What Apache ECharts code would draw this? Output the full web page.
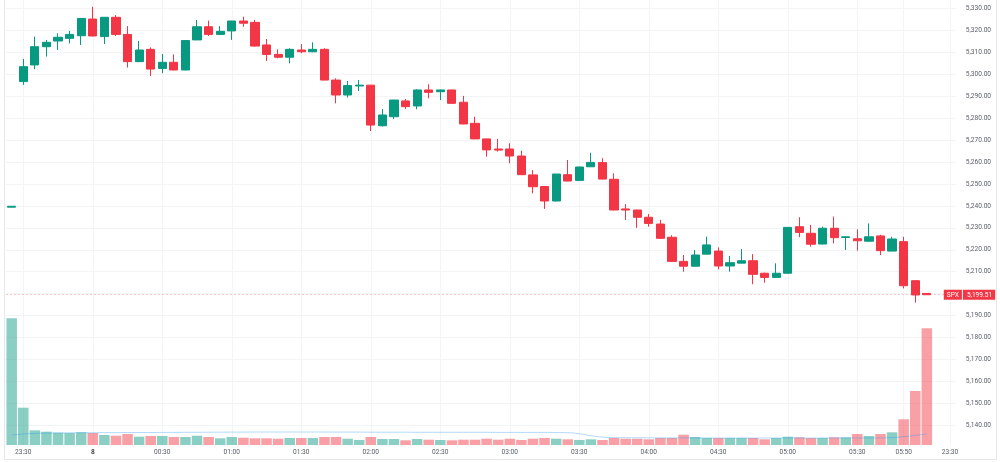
<!DOCTYPE html>
<html>
<head>
<meta charset="utf-8">
<script src="https://cdn.jsdelivr.net/npm/echarts@6/dist/echarts.min.js"></script>
<style>
html,body{margin:0;padding:0;background:#fff;}
#chart{width:1000px;height:462px;}
</style>
</head>
<body>
<div id="chart"></div>
<script>
// 5-minute bars, day 7 23:25 -> day 8 06:00, plus two empty slots on the time scale
const categories = [
 '7 23:25','7 23:30','7 23:35','7 23:40','7 23:45','7 23:50','7 23:55',
 '8 00:00','8 00:05','8 00:10','8 00:15','8 00:20','8 00:25','8 00:30','8 00:35','8 00:40','8 00:45','8 00:50','8 00:55',
 '8 01:00','8 01:05','8 01:10','8 01:15','8 01:20','8 01:25','8 01:30','8 01:35','8 01:40','8 01:45','8 01:50','8 01:55',
 '8 02:00','8 02:05','8 02:10','8 02:15','8 02:20','8 02:25','8 02:30','8 02:35','8 02:40','8 02:45','8 02:50','8 02:55',
 '8 03:00','8 03:05','8 03:10','8 03:15','8 03:20','8 03:25','8 03:30','8 03:35','8 03:40','8 03:45','8 03:50','8 03:55',
 '8 04:00','8 04:05','8 04:10','8 04:15','8 04:20','8 04:25','8 04:30','8 04:35','8 04:40','8 04:45','8 04:50','8 04:55',
 '8 05:00','8 05:05','8 05:10','8 05:15','8 05:20','8 05:25','8 05:30','8 05:35','8 05:40','8 05:45','8 05:50','8 05:55',
 '8 06:00','8 06:05','8 23:30'
];
const tickTimes = ['7 23:30','8 00:00','8 00:30','8 01:00','8 01:30','8 02:00','8 02:30','8 03:00','8 03:30',
 '8 04:00','8 04:30','8 05:00','8 05:30','8 05:50','8 23:30'];

const opens = [
 5239.4,5296.6,5304.2,5312.5,5315.1,5316.3,5317.5,5325.1,5317.1,5325.9,
 5318.1,5305.7,5311.3,5302.6,5305.4,5301.9,5315.6,5321.6,5318.1,5319.7,
 5324.2,5323.6,5313.3,5309.0,5307.7,5311.0,5310.2,5311.3,5297.3,5290.5,
 5294.6,5295.0,5276.5,5280.6,5287.8,5285.5,5292.8,5292.0,5292.8,5287.2,
 5277.6,5270.5,5265.9,5265.9,5262.7,5254.1,5248.8,5242.2,5254.2,5251.6,
 5257.8,5259.7,5252.1,5238.6,5238.1,5234.8,5231.7,5225.7,5214.7,5212.5,
 5218.0,5219.4,5212.6,5213.9,5215.0,5209.3,5207.4,5209.3,5230.5,5227.5,
 5222.6,5229.8,5225.6,5225.0,5223.9,5226.3,5219.4,5223.7,5205.9,5200.1
];
const closes = [
 5239.8,5303.4,5312.5,5314.5,5316.8,5318.1,5325.4,5317.4,5325.9,5318.1,
 5305.7,5311.0,5302.3,5305.4,5301.9,5315.3,5321.6,5318.1,5319.5,5324.2,
 5323.2,5312.8,5309.0,5307.7,5311.3,5310.2,5311.3,5297.3,5290.5,5294.8,
 5295.0,5276.8,5281.4,5288.2,5285.2,5292.8,5291.7,5292.8,5286.7,5277.3,
 5270.5,5265.5,5265.4,5262.7,5254.2,5248.7,5242.2,5254.5,5251.3,5257.7,
 5259.8,5252.2,5238.1,5238.1,5234.8,5232.0,5225.2,5214.7,5212.5,5217.6,
 5222.2,5212.6,5214.1,5215.0,5208.8,5207.4,5209.3,5230.2,5227.9,5222.5,
 5229.8,5225.5,5225.9,5224.1,5225.9,5219.6,5224.9,5203.6,5199.4,5199.51
];
const lows = [
 5239.3,5295.1,5302.3,5308.0,5311.0,5314.0,5313.3,5317.2,5313.7,5317.4,
 5303.0,5305.5,5299.2,5300.4,5301.7,5301.7,5315.5,5317.4,5317.9,5315.6,
 5321.6,5312.5,5306.0,5307.2,5304.9,5309.5,5310.0,5297.2,5286.7,5289.3,
 5292.3,5274.1,5276.1,5279.6,5284.1,5284.0,5289.0,5288.2,5286.6,5277.2,
 5270.4,5262.4,5264.7,5259.4,5254.1,5245.7,5238.6,5242.0,5251.2,5251.5,
 5257.7,5252.1,5238.0,5233.6,5230.0,5230.5,5225.0,5214.6,5210.0,5212.3,
 5217.9,5211.1,5210.0,5213.8,5204.3,5205.0,5207.3,5209.2,5225.7,5221.4,
 5222.5,5222.9,5219.9,5219.6,5223.7,5217.6,5219.3,5202.4,5195.9,5199.4
];
const highs = [
 5239.9,5306.9,5317.1,5315.6,5318.6,5319.7,5325.5,5330.7,5326.0,5326.9,
 5321.9,5315.1,5312.2,5309.2,5309.0,5315.4,5324.7,5324.4,5321.9,5324.3,
 5326.2,5324.7,5316.0,5311.3,5311.8,5313.7,5314.5,5311.8,5298.1,5296.9,
 5297.3,5295.1,5284.1,5288.3,5288.7,5293.1,5295.4,5292.9,5292.9,5290.1,
 5280.6,5270.6,5270.5,5268.5,5265.1,5256.3,5248.9,5254.5,5260.9,5257.8,
 5264.2,5261.7,5254.8,5240.8,5238.2,5236.3,5233.6,5226.6,5217.6,5219.9,
 5226.0,5221.1,5217.2,5220.3,5218.0,5209.6,5213.8,5230.3,5234.8,5231.3,
 5230.5,5235.1,5226.2,5229.3,5232.0,5226.8,5225.9,5225.9,5206.0,5200.2
];
// volume (relative units)
const volumes = [
 126.7,37.3,14.7,13.3,12.3,12.0,12.7,12.0,10.0,9.3,
 11.0,8.3,9.0,9.0,8.0,8.0,9.3,8.0,6.7,8.0,
 7.3,6.7,6.7,6.3,7.0,7.0,7.0,8.0,8.0,6.3,
 5.0,8.0,6.0,6.0,4.7,6.0,5.3,5.0,4.7,5.3,
 5.3,6.3,5.3,6.3,5.0,6.3,7.0,6.3,5.7,5.0,
 5.7,5.0,7.0,6.3,6.3,5.7,7.0,7.0,10.3,8.0,
 7.0,7.0,7.0,7.0,7.0,5.7,7.0,8.3,7.7,7.0,
 7.0,7.7,7.7,11.0,9.0,11.0,12.7,25.7,54.0,116.7
];
const volumeMA = [
 10.0,11.0,11.6,11.9,12.1,12.2,12.3,12.3,12.4,12.4,
 12.5,12.5,12.5,12.6,12.6,12.7,12.7,12.8,12.8,12.9,
 12.9,13.0,13.0,13.0,13.0,13.0,13.0,13.0,12.9,12.9,
 12.9,12.8,12.8,12.8,12.8,12.7,12.7,12.7,12.7,12.7,
 12.7,12.7,12.6,12.6,12.6,12.6,12.6,12.5,12.3,11.3,
 9.3,7.9,7.4,7.3,7.2,7.2,7.1,7.1,7.1,7.1,
 7.1,7.0,7.0,7.0,7.0,7.0,7.0,7.0,7.0,7.0,
 7.0,7.0,7.0,7.0,7.0,7.1,7.4,8.3,9.6,11.0
];
const symbol = 'SPX';
const priceMin = 5140, priceMax = 5330, priceStep = 10;

const UP = '#089981', DOWN = '#F23645';
const UP_VOL = 'rgba(8,153,129,0.47)', DOWN_VOL = 'rgba(242,54,69,0.47)';

const candleData = opens.map((o, i) => [o, closes[i], lows[i], highs[i]]);
const volData = volumes.map((v, i) => ({
  value: v,
  itemStyle: { color: closes[i] >= opens[i] ? UP_VOL : DOWN_VOL }
}));
const lastPrice = closes[closes.length - 1];
const fmtPrice = v => v.toLocaleString('en-US', { minimumFractionDigits: 2, maximumFractionDigits: 2 });
const tickSet = new Set(tickTimes);
const tickIdx = (i, val) => tickSet.has(categories[i]);

const FONT = 'Roboto, "Noto Sans", sans-serif';
const GRID_L = 5.9, GRID_R = 44.2;

const chart = echarts.init(document.getElementById('chart'), null, { renderer: 'canvas' });
chart.setOption({
  animation: false,
  backgroundColor: '#ffffff',
  textStyle: { fontFamily: FONT },
  grid: [
    { left: GRID_L, right: GRID_R, top: 8.3, height: 417.05 },
    { left: GRID_L, right: GRID_R, top: 0, height: 445 }
  ],
  xAxis: [
    { type: 'category', gridIndex: 0, data: categories, boundaryGap: true, show: false },
    {
      type: 'category', gridIndex: 1, data: categories, boundaryGap: true,
      axisLine: { show: false }, axisTick: { show: false },
      axisLabel: {
        interval: tickIdx, margin: 4, fontSize: 6.6, color: '#555a66', fontFamily: FONT,
        formatter: v => {
          const [d, t] = v.split(' ');
          return t === '00:00' ? '{d|' + d + '}' : t;
        },
        rich: { d: { fontWeight: 'bold', fontSize: 6.6, color: '#444', fontFamily: FONT } }
      },
      splitLine: { show: true, interval: tickIdx, alignWithLabel: true, lineStyle: { color: '#f3f4f6', width: 1 } }
    }
  ],
  yAxis: [
    {
      type: 'value', gridIndex: 0, position: 'right', min: priceMin, max: priceMax, interval: priceStep,
      axisLine: { show: false }, axisTick: { show: false },
      axisLabel: {
        margin: 10, fontSize: 6.6, color: '#5d606b', fontFamily: FONT,
        formatter: v => (Math.abs(v - 5200) < 0.01 ? '' : fmtPrice(v))
      },
      splitLine: { lineStyle: { color: '#f3f4f6', width: 1 } }
    },
    { type: 'value', gridIndex: 1, min: 0, max: 445, show: false }
  ],
  series: [
    {
      name: 'Volume', type: 'bar', xAxisIndex: 1, yAxisIndex: 1,
      data: volData, barWidth: '91%', z: 1
    },
    {
      name: 'Volume MA', type: 'line', xAxisIndex: 1, yAxisIndex: 1,
      data: volumeMA, smooth: true, showSymbol: false, symbol: 'none',
      lineStyle: { color: 'rgba(33,150,243,0.35)', width: 1 }, z: 2
    },
    {
      name: symbol, type: 'candlestick', xAxisIndex: 0, yAxisIndex: 0,
      data: candleData, barWidth: '75%', clip: false, z: 3,
      itemStyle: { color: UP, color0: DOWN, borderColor: UP, borderColor0: DOWN, borderWidth: 1 },
      markLine: {
        silent: true, symbol: ['none', 'none'],
        data: [{ yAxis: lastPrice }],
        lineStyle: { color: 'rgba(242,54,69,0.28)', type: [2, 2], width: 1 },
        label: {
          show: true, position: 'end', distance: -12,
          formatter: '{a|' + symbol + '}{s|}{b|' + fmtPrice(lastPrice) + '}',
          rich: {
            a: { backgroundColor: DOWN, color: '#fff', fontSize: 6.6, padding: [2, 3, 1, 3], fontFamily: FONT },
            s: { width: 1, height: 9 },
            b: { backgroundColor: DOWN, color: '#fff', fontSize: 6.6, padding: [2, 3, 1, 4], fontFamily: FONT }
          }
        }
      }
    }
  ],
  graphic: [
    {
      type: 'polyline', silent: true, z: 10,
      shape: { points: [[4.5, 0], [4.5, 459.5], [996.5, 459.5], [996.5, 0]] },
      style: { stroke: '#e6e8ec', lineWidth: 1, fill: null }
    }
  ]
});
</script>
</body>
</html>
